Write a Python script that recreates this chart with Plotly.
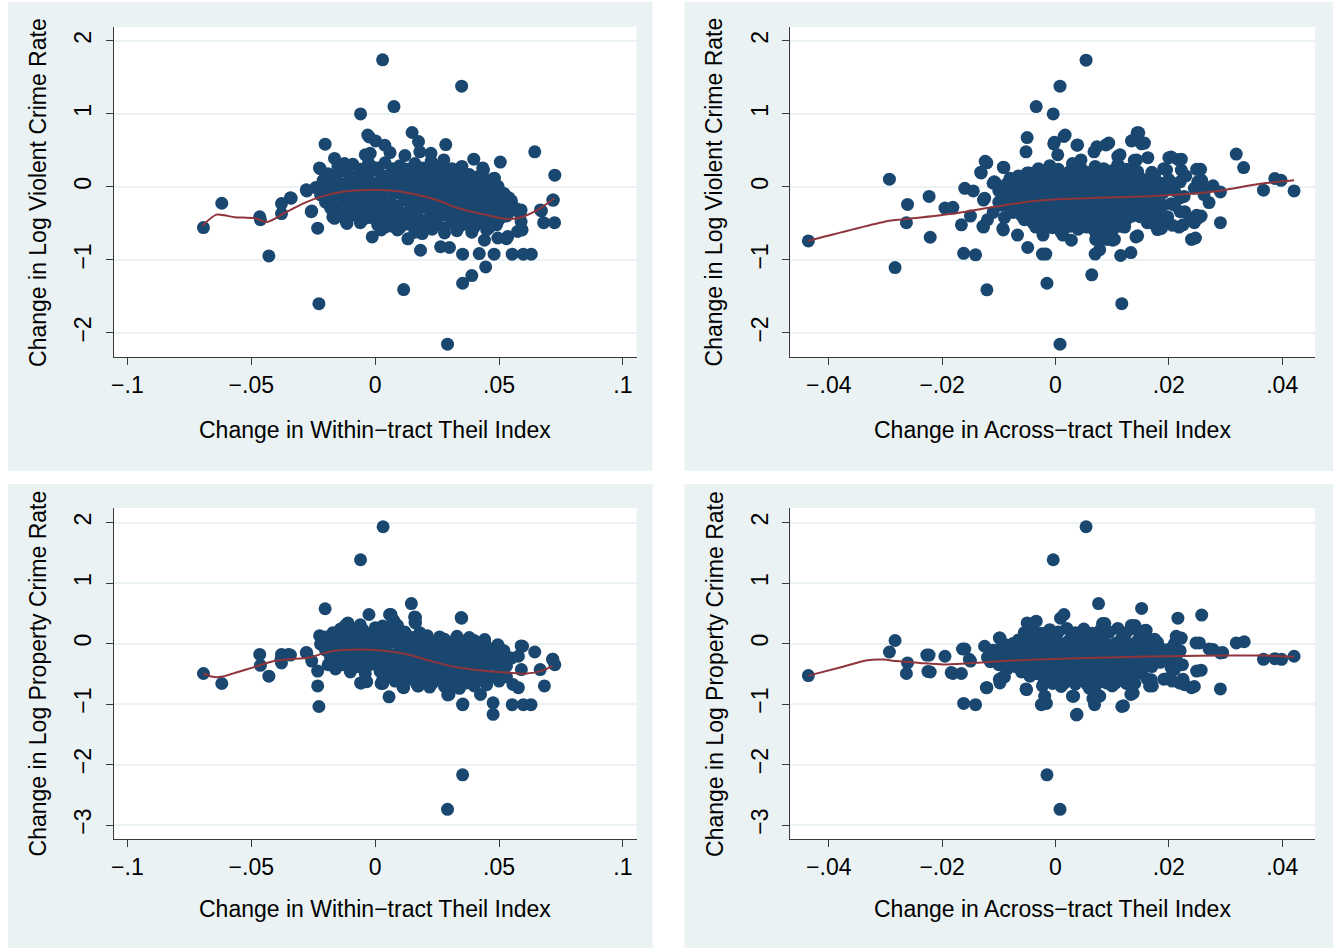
import plotly.graph_objects as go

# ---------------- data ----------------
# Panel A: within-tract Theil change vs. change in log violent crime rate
TL_POINTS = [
    (0.003, 1.74), (0.0349, 1.38), (0.0076, 1.10), (-0.0059, 1.00),
    (-0.0693, -0.557), (-0.0619, -0.224), (-0.0466, -0.41), (-0.0463, -0.45), (-0.0429, -0.945),
    (-0.0378, -0.228), (-0.0378, -0.365), (-0.0342, -0.15), (-0.0276, -0.055), (-0.0256, -0.33),
    (-0.0232, -0.566), (-0.0227, -1.60), (-0.0202, 0.585), (-0.0222, 0.25), (-0.0164, 0.39),
    (0.0115, -1.406), (0.0292, -2.155), (0.0353, -1.32), (0.039, -1.215), (0.0446, -1.096),
    (0.0353, -0.922), (0.042, -0.913), (0.048, -0.922), (0.0553, -0.922), (0.0598, -0.922), (0.063, -0.922),
    (0.0183, -0.868), (0.0264, -0.82), (0.030, -0.83),
    (0.0644, 0.48), (0.0725, 0.16), (0.0719, -0.18), (0.068, -0.49), (0.0724, -0.49), (0.0671, -0.33),
    (0.0505, 0.34), (0.0398, 0.38), (0.0285, 0.58), (0.0225, 0.46), (0.0149, 0.745), (0.0175, 0.62),
    (-0.0024, 0.685), (0.0002, 0.63), (0.0039, 0.57), (-0.002, 0.46), (0.0437, 0.23), (0.048, 0.115),
    (0.0585, -0.365), (0.0593, -0.59), (0.053, -0.71), (-0.0012, -0.685), (0.0132, -0.712), (0.019, -0.64),
    (-0.0164, -0.43), (-0.0114, -0.50),
    (-0.0030, 0.71), (-0.0027, 0.33), (-0.0124, 0.32), (-0.0225, 0.26), (0.0226, 0.35), (0.0277, 0.37),
    (0.0434, 0.26), (0.0481, 0.12), (0.0495, 0.01), (0.0414, 0.14), (0.0333, 0.23), (0.036, 0.06),
    (0.0394, -0.06), (0.0434, -0.13), (0.0495, -0.14), (-0.0278, -0.04), (-0.0339, -0.155),
    (-0.0258, -0.34), (-0.0171, -0.41), (-0.0117, -0.475), (0.0024, -0.59), (0.0071, -0.54),
    (0.0192, -0.61), (0.0441, -0.73), (0.0495, -0.70), (0.0535, -0.68), (0.0575, -0.61),
    (0.0589, -0.475), (0.0535, -0.36), (0.0589, -0.315), (0.0667, -0.315), (0.0717, -0.18),
    (-0.004, 0.44), (0.006, 0.47), (0.012, 0.43), (0.018, 0.48),
    (-0.015, 0.28), (-0.009, 0.31), (-0.001, 0.27), (0.004, 0.33), (0.010, 0.29), (0.016, 0.32),
    (0.021, 0.26), (0.027, 0.30), (0.035, 0.28),
    (-0.019, 0.18), (-0.012, 0.21), (-0.006, 0.17), (0.001, 0.22), (0.007, 0.19), (0.013, 0.16),
    (0.019, 0.21), (0.025, 0.18), (0.031, 0.20), (0.038, 0.17),
    (-0.021, 0.09), (-0.016, 0.12), (-0.010, 0.08), (-0.004, 0.11), (0.002, 0.07), (0.008, 0.12),
    (0.014, 0.09), (0.020, 0.11), (0.026, 0.08), (0.032, 0.10), (0.040, 0.07), (0.046, 0.09),
    (-0.024, -0.01), (-0.018, 0.02), (-0.012, -0.02), (-0.007, 0.01), (-0.001, -0.03), (0.005, 0.02),
    (0.011, -0.01), (0.017, 0.01), (0.023, -0.02), (0.029, 0.02), (0.034, -0.01), (0.041, 0.01), (0.047, -0.03),
    (-0.022, -0.11), (-0.015, -0.08), (-0.009, -0.12), (-0.003, -0.09), (0.003, -0.11), (0.009, -0.08),
    (0.015, -0.12), (0.021, -0.09), (0.027, -0.11), (0.033, -0.08), (0.038, -0.12), (0.044, -0.10), (0.052, -0.09),
    (-0.020, -0.21), (-0.013, -0.18), (-0.006, -0.22), (0.000, -0.19), (0.006, -0.21), (0.012, -0.18),
    (0.018, -0.22), (0.024, -0.19), (0.030, -0.21), (0.036, -0.18), (0.042, -0.22), (0.048, -0.20), (0.055, -0.19),
    (-0.018, -0.29), (-0.011, -0.32), (-0.004, -0.28), (0.002, -0.31), (0.008, -0.29), (0.014, -0.32),
    (0.020, -0.28), (0.026, -0.31), (0.032, -0.29), (0.037, -0.32), (0.043, -0.28), (0.050, -0.31), (0.057, -0.30),
    (-0.008, -0.39), (-0.002, -0.42), (0.004, -0.38), (0.010, -0.41), (0.016, -0.39), (0.022, -0.42),
    (0.028, -0.38), (0.034, -0.41), (0.040, -0.39), (0.046, -0.42), (0.053, -0.40),
    (-0.006, -0.49), (0.001, -0.52), (0.007, -0.48), (0.013, -0.51), (0.019, -0.49), (0.025, -0.52),
    (0.031, -0.48), (0.036, -0.51), (0.042, -0.49), (0.049, -0.52),
    (0.009, -0.59), (0.016, -0.62), (0.023, -0.58), (0.028, -0.63), (0.033, -0.60), (0.039, -0.62), (0.045, -0.59),
]
TL_CORE_FILL = [
    (-0.012, 0.25), (-0.006, 0.24), (0.001, 0.26), (0.007, 0.25), (0.013, 0.24), (0.019, 0.26), (0.024, 0.24), (0.031, 0.25),
    (-0.016, 0.15), (-0.009, 0.14), (-0.003, 0.16), (0.004, 0.15), (0.010, 0.14), (0.016, 0.16), (0.022, 0.15),
    (0.028, 0.14), (0.035, 0.15),
    (-0.019, 0.05), (-0.013, 0.04), (-0.007, 0.06), (-0.001, 0.05), (0.005, 0.04), (0.011, 0.06), (0.017, 0.05),
    (0.023, 0.04), (0.029, 0.06), (0.036, 0.05), (0.043, 0.04),
    (-0.021, -0.05), (-0.015, -0.06), (-0.009, -0.04), (-0.004, -0.05), (0.002, -0.06), (0.008, -0.04), (0.014, -0.05),
    (0.020, -0.06), (0.026, -0.04), (0.031, -0.05), (0.037, -0.06), (0.044, -0.05), (0.050, -0.04),
    (-0.018, -0.15), (-0.012, -0.16), (-0.006, -0.14), (0.000, -0.15), (0.006, -0.16), (0.012, -0.14), (0.018, -0.15),
    (0.024, -0.16), (0.030, -0.14), (0.036, -0.15), (0.041, -0.16), (0.047, -0.14), (0.054, -0.15),
    (-0.016, -0.25), (-0.009, -0.26), (-0.003, -0.24), (0.003, -0.25), (0.009, -0.26), (0.015, -0.24), (0.021, -0.25),
    (0.027, -0.26), (0.033, -0.24), (0.039, -0.25), (0.045, -0.26), (0.052, -0.24),
    (-0.014, -0.35), (-0.007, -0.36), (-0.001, -0.34), (0.005, -0.35), (0.011, -0.36), (0.017, -0.34), (0.023, -0.35),
    (0.029, -0.36), (0.035, -0.34), (0.040, -0.35), (0.047, -0.36), (0.054, -0.34),
    (-0.005, -0.45), (0.001, -0.46), (0.007, -0.44), (0.013, -0.45), (0.019, -0.46), (0.025, -0.44), (0.031, -0.45),
    (0.037, -0.46), (0.043, -0.44), (0.050, -0.45),
    (0.004, -0.55), (0.010, -0.56), (0.016, -0.54), (0.022, -0.55), (0.028, -0.56), (0.034, -0.54), (0.040, -0.55),
    (0.046, -0.56),
]
TL_LOWESS_X = [-0.0698, -0.0641, -0.0608, -0.0567, -0.0487, -0.0435, -0.0366, -0.0285, -0.0204, -0.0124,
               -0.0030, 0.0065, 0.0172, 0.0226, 0.0266, 0.0333, 0.0441, 0.0535, 0.0589, 0.0656, 0.0723]
TL_LOWESS_Y = [-0.534, -0.38, -0.39, -0.415, -0.43, -0.48, -0.36, -0.22, -0.12, -0.064,
               -0.041, -0.05, -0.11, -0.155, -0.20, -0.29, -0.38, -0.44, -0.415, -0.315, -0.155]

# Panel B: across-tract Theil change vs. change in log violent crime rate
TR_POINTS = [
    (0.0054, 1.735), (0.0008, 1.38), (-0.0034, 1.10), (-0.0004, 1.00),
    (-0.0436, -0.74), (-0.0293, 0.105), (-0.0283, -1.105), (-0.0261, -0.24), (-0.0263, -0.49),
    (-0.0223, -0.13), (-0.0221, -0.69), (-0.0195, -0.29), (-0.0181, -0.28), (-0.0166, -0.52),
    (-0.016, -0.02), (-0.0145, -0.055), (-0.0162, -0.91), (-0.0141, -0.93), (-0.015, -0.40),
    (-0.0131, 0.19), (-0.0121, 0.33), (-0.0121, -1.41), (-0.0091, 0.265), (-0.0127, -0.18),
    (-0.0127, -0.55), (-0.0105, 0.045), (-0.0092, -0.59), (-0.0067, -0.66), (-0.005, 0.675),
    (-0.0052, 0.48), (-0.0049, -0.83), (-0.0023, -0.92), (-0.0017, -0.92), (-0.0015, -1.32),
    (0.0008, -2.155), (0.0015, 0.69), (-0.0003, 0.59), (0.0038, 0.57), (0.0064, -1.205),
    (0.007, -0.92), (0.0078, -0.86), (0.0115, -0.94), (0.0133, -0.90), (0.0117, -1.60),
    (0.0144, 0.74), (0.0134, 0.63), (0.0152, 0.59), (0.0089, 0.575), (0.0073, 0.55), (0.0068, 0.48),
    (0.0110, 0.42), (0.0139, 0.365), (0.0163, 0.40), (0.020, 0.40), (0.0216, 0.375), (0.0191, 0.25),
    (0.0249, 0.24), (0.0319, 0.45), (0.0332, 0.265), (0.0387, 0.115), (0.0398, 0.09), (0.0421, -0.055),
    (0.0367, -0.045), (0.0291, -0.07), (0.0278, 0.015), (0.0271, -0.215), (0.0262, -0.105),
    (0.0291, -0.49), (0.024, -0.72), (0.0249, -0.39), (0.0245, -0.49), (0.0238, -0.43), (0.0218, -0.55),
    (0.0206, -0.525), (0.0191, -0.465), (0.018, -0.585), (0.022, -0.34), (0.0204, -0.23), (0.0227, -0.13),
    (0.022, 0.07), (0.0258, 0.09), (0.0245, -0.02), (0.0166, -0.41), (0.0162, -0.49), (0.0142, -0.685),
    (0.0122, -0.55), (0.0104, -0.72), (0.0091, -0.72), (0.0071, -0.72),
    (-0.0132, 0.20), (-0.0124, 0.35), (-0.0092, 0.27), (-0.0125, -0.155), (-0.0128, -0.54),
    (-0.0108, 0.07), (-0.0093, -0.57), (-0.0002, 0.61), (0.0017, 0.71), (0.0039, 0.575),
    (0.0004, 0.44), (0.0045, 0.37), (0.0094, 0.60), (0.0114, 0.44), (0.0137, 0.64), (0.0147, 0.74),
    (0.0157, 0.60), (0.0112, 0.28), (0.0134, 0.21), (0.0143, 0.37), (0.0204, 0.41), (0.0222, 0.38),
    (0.0196, 0.23), (0.0222, 0.23), (0.0256, 0.24), (0.0251, 0.07), (0.026, 0.00), (0.021, -0.25),
    (0.0228, -0.34), (0.0198, -0.41), (0.0225, -0.52), (0.0187, -0.57), (0.0169, -0.43), (0.0172, -0.50),
    (0.0247, -0.70), (0.0251, -0.43), (0.0257, -0.40), (0.0145, -0.67), (0.0084, -0.70), (0.0101, -0.73),
    (0.0028, -0.73), (0.0013, -0.66), (-0.0022, -0.66), (-0.0046, 0.19), (-0.0075, 0.10), (-0.0075, -0.04),
    (-0.011, -0.35), (-0.012, -0.45), (-0.010, -0.05), (-0.009, -0.42), (-0.011, 0.05), (-0.008, 0.12),
    (0.019, -0.25), (0.021, -0.05), (0.023, 0.15), (0.018, -0.35), (0.020, 0.05), (0.022, -0.15),
    (-0.001, 0.29), (0.003, 0.32), (0.007, 0.28), (0.011, 0.31),
    (-0.005, 0.19), (-0.002, 0.22), (0.001, 0.18), (0.004, 0.21), (0.007, 0.17), (0.010, 0.22),
    (0.013, 0.19), (0.017, 0.20),
    (-0.007, 0.09), (-0.004, 0.12), (-0.001, 0.08), (0.002, 0.11), (0.005, 0.09), (0.008, 0.12),
    (0.011, 0.08), (0.014, 0.11), (0.017, 0.09), (0.020, 0.10),
    (-0.009, -0.01), (-0.006, 0.02), (-0.003, -0.02), (0.000, 0.01), (0.003, -0.01), (0.006, 0.02),
    (0.009, -0.02), (0.012, 0.01), (0.015, -0.01), (0.018, 0.02),
    (-0.008, -0.11), (-0.005, -0.08), (-0.002, -0.12), (0.001, -0.09), (0.004, -0.11), (0.007, -0.08),
    (0.010, -0.12), (0.013, -0.09), (0.016, -0.11), (0.019, -0.08),
    (-0.010, -0.21), (-0.007, -0.18), (-0.004, -0.22), (-0.001, -0.19), (0.002, -0.21), (0.005, -0.18),
    (0.008, -0.22), (0.011, -0.19), (0.014, -0.21), (0.017, -0.18),
    (-0.008, -0.29), (-0.005, -0.32), (-0.002, -0.28), (0.001, -0.31), (0.004, -0.29), (0.007, -0.32),
    (0.010, -0.28), (0.013, -0.31), (0.016, -0.29),
    (-0.006, -0.39), (-0.003, -0.42), (0.000, -0.38), (0.003, -0.41), (0.006, -0.39), (0.009, -0.42),
    (0.012, -0.38), (0.015, -0.41),
    (-0.004, -0.49), (-0.001, -0.52), (0.002, -0.48), (0.005, -0.51), (0.008, -0.49), (0.011, -0.52),
    (-0.002, -0.59), (0.001, -0.62), (0.004, -0.58), (0.007, -0.61), (0.010, -0.60),
]
TR_CORE_FILL = [
    (-0.003, 0.25), (0.0005, 0.24), (0.0045, 0.26), (0.0085, 0.25), (0.0125, 0.24),
    (-0.0065, 0.15), (-0.0035, 0.14), (-0.0005, 0.16), (0.0025, 0.15), (0.0055, 0.14), (0.0085, 0.16),
    (0.0115, 0.15), (0.0145, 0.14), (0.0175, 0.15),
    (-0.0085, 0.05), (-0.0055, 0.04), (-0.0025, 0.06), (0.0005, 0.05), (0.0035, 0.04), (0.0065, 0.06),
    (0.0095, 0.05), (0.0125, 0.04), (0.0155, 0.06), (0.0185, 0.05),
    (-0.0095, -0.05), (-0.0065, -0.06), (-0.0035, -0.04), (-0.0005, -0.05), (0.0025, -0.06), (0.0055, -0.04),
    (0.0085, -0.05), (0.0115, -0.06), (0.0145, -0.04), (0.0175, -0.05),
    (-0.0095, -0.15), (-0.0065, -0.16), (-0.0035, -0.14), (-0.0005, -0.15), (0.0025, -0.16), (0.0055, -0.14),
    (0.0085, -0.15), (0.0115, -0.16), (0.0145, -0.14), (0.0175, -0.15),
    (-0.0095, -0.25), (-0.0065, -0.26), (-0.0035, -0.24), (-0.0005, -0.25), (0.0025, -0.26), (0.0055, -0.24),
    (0.0085, -0.25), (0.0115, -0.26), (0.0145, -0.24), (0.0175, -0.25),
    (-0.0075, -0.35), (-0.0045, -0.36), (-0.0015, -0.34), (0.0015, -0.35), (0.0045, -0.36), (0.0075, -0.34),
    (0.0105, -0.35), (0.0135, -0.36), (0.0165, -0.34),
    (-0.0055, -0.45), (-0.0025, -0.46), (0.0005, -0.44), (0.0035, -0.45), (0.0065, -0.46), (0.0095, -0.44),
    (0.0125, -0.45),
    (-0.0035, -0.55), (-0.0005, -0.56), (0.0025, -0.54), (0.0055, -0.55), (0.0085, -0.56), (0.0115, -0.54),
]
TR_CORE_FILL2 = [
    (-0.0035, 0.20), (-0.0005, 0.19), (0.0025, 0.21), (0.0055, 0.20), (0.0085, 0.19), (0.0115, 0.20), (0.0145, 0.21),
    (-0.0055, 0.10), (-0.0025, 0.11), (0.0005, 0.09), (0.0035, 0.10), (0.0065, 0.11), (0.0095, 0.10),
    (0.0125, 0.09), (0.0155, 0.10),
    (-0.0075, 0.00), (-0.0045, -0.01), (-0.0015, 0.01), (0.0015, 0.00), (0.0045, -0.01), (0.0075, 0.01),
    (0.0105, 0.00), (0.0135, -0.01), (0.0165, 0.00),
    (-0.0065, -0.10), (-0.0035, -0.09), (-0.0005, -0.11), (0.0025, -0.10), (0.0055, -0.09), (0.0085, -0.11),
    (0.0115, -0.10), (0.0145, -0.09), (0.0175, -0.10),
    (-0.0085, -0.20), (-0.0055, -0.21), (-0.0025, -0.19), (0.0005, -0.20), (0.0035, -0.21), (0.0065, -0.19),
    (0.0095, -0.20), (0.0125, -0.21), (0.0155, -0.19),
    (-0.0065, -0.30), (-0.0035, -0.31), (-0.0005, -0.29), (0.0025, -0.30), (0.0055, -0.31), (0.0085, -0.29),
    (0.0115, -0.30), (0.0145, -0.31),
    (-0.0045, -0.40), (-0.0015, -0.41), (0.0015, -0.39), (0.0045, -0.40), (0.0075, -0.41), (0.0105, -0.39),
    (0.0135, -0.40),
    (-0.0025, -0.50), (0.0005, -0.51), (0.0035, -0.49), (0.0065, -0.50), (0.0095, -0.51),
]
TR_LOWESS_X = [-0.0436, -0.0293, -0.027, -0.0175, -0.0105, -0.0034, 0.0054, 0.0172, 0.0272, 0.0365, 0.0421]
TR_LOWESS_Y = [-0.74, -0.465, -0.445, -0.36, -0.27, -0.19, -0.155, -0.125, -0.07, 0.046, 0.09]

# Panel C: within-tract Theil change vs. change in log property crime rate
BL_POINTS = [
    (0.0032, 1.93), (-0.0059, 1.385), (-0.0693, -0.495), (-0.0619, -0.66), (-0.0466, -0.18),
    (-0.0463, -0.36), (-0.0429, -0.54), (-0.0378, -0.18), (-0.0378, -0.32), (-0.0342, -0.19),
    (-0.0276, -0.155), (-0.0256, -0.29), (-0.0232, -0.455), (-0.0232, -0.70), (-0.0227, -1.04),
    (-0.0202, 0.575), (-0.0224, 0.13), (-0.0025, 0.48), (-0.0059, -0.65), (-0.0034, -0.63),
    (0.0031, -0.66), (0.0056, -0.88), (0.0064, 0.48), (0.0076, 0.37), (0.0146, 0.66),
    (0.0163, 0.43), (0.0163, 0.34), (0.0115, -0.73), (0.0175, -0.70), (0.0349, 0.42),
    (0.0298, -0.84), (0.0353, -1.01), (0.0353, -2.17), (0.0292, -2.74), (0.0476, -0.98),
    (0.0476, -1.17), (0.0553, -1.01), (0.0598, -1.01), (0.0629, -1.01), (0.0683, -0.70),
    (0.0666, -0.43), (0.0717, -0.26), (0.0725, -0.35), (0.0644, -0.14), (0.0595, -0.045),
    (0.0497, -0.035), (0.0442, 0.065), (0.0425, -0.84), (0.0556, -0.675), (0.0578, -0.73),
    (0.0590, -0.43), (0.0578, -0.21), (0.0531, -0.29),
    (0.0058, 0.48), (0.0071, 0.395), (0.0159, 0.44), (0.0161, 0.35), (0.0347, 0.43),
    (0.0716, -0.26), (-0.0056, -0.65), (0.0024, -0.66), (0.0112, -0.72), (0.0172, -0.70),
    (0.0293, -0.85), (0.0354, -1.0), (0.0589, -0.04), (0.0495, -0.02), (-0.011, 0.34),
    (-0.0278, -0.15), (-0.035, -0.18), (-0.038, -0.26),
    (-0.014, 0.24), (-0.010, 0.27), (-0.005, 0.23), (0.000, 0.26), (0.005, 0.22),
    (-0.020, 0.11), (-0.015, 0.14), (-0.009, 0.10), (-0.003, 0.13), (0.003, 0.11), (0.009, 0.14),
    (0.015, 0.10), (0.021, 0.13), (0.026, 0.11), (0.033, 0.12), (0.038, 0.10),
    (-0.022, -0.01), (-0.017, 0.02), (-0.011, -0.02), (-0.005, 0.01), (0.001, -0.01), (0.007, 0.02),
    (0.013, -0.02), (0.019, 0.01), (0.025, -0.01), (0.031, 0.02), (0.036, -0.02), (0.042, 0.00),
    (-0.020, -0.11), (-0.014, -0.14), (-0.008, -0.10), (-0.002, -0.13), (0.004, -0.11), (0.010, -0.14),
    (0.016, -0.10), (0.022, -0.13), (0.028, -0.11), (0.034, -0.14), (0.040, -0.10), (0.046, -0.13), (0.052, -0.12),
    (-0.018, -0.23), (-0.012, -0.26), (-0.006, -0.22), (0.000, -0.25), (0.006, -0.23), (0.012, -0.26),
    (0.018, -0.22), (0.024, -0.25), (0.030, -0.23), (0.036, -0.26), (0.042, -0.22), (0.048, -0.25), (0.055, -0.24),
    (-0.013, -0.35), (-0.007, -0.38), (-0.001, -0.34), (0.005, -0.37), (0.011, -0.35), (0.017, -0.38),
    (0.023, -0.34), (0.029, -0.37), (0.035, -0.35), (0.041, -0.38), (0.047, -0.34), (0.053, -0.37),
    (-0.010, -0.47), (-0.004, -0.50), (0.002, -0.46), (0.008, -0.49), (0.014, -0.47), (0.020, -0.50),
    (0.026, -0.46), (0.032, -0.49), (0.038, -0.47), (0.044, -0.50), (0.050, -0.48),
    (0.014, -0.59), (0.020, -0.62), (0.026, -0.58), (0.032, -0.61), (0.038, -0.59), (0.044, -0.62),
    (0.028, -0.71), (0.034, -0.74), (0.040, -0.70),
]
BL_CORE_FILL = [
    (-0.017, 0.18), (-0.012, 0.17), (-0.006, 0.19), (0.000, 0.18), (0.006, 0.17), (0.012, 0.19), (0.018, 0.18),
    (-0.021, 0.06), (-0.014, 0.05), (-0.008, 0.07), (-0.002, 0.06), (0.004, 0.05), (0.010, 0.07), (0.016, 0.06),
    (0.022, 0.05), (0.028, 0.07), (0.034, 0.06), (0.040, 0.05),
    (-0.020, -0.06), (-0.014, -0.07), (-0.008, -0.05), (-0.002, -0.06), (0.004, -0.07), (0.010, -0.05),
    (0.016, -0.06), (0.022, -0.07), (0.028, -0.05), (0.034, -0.06), (0.039, -0.07), (0.045, -0.05),
    (-0.017, -0.18), (-0.011, -0.19), (-0.005, -0.17), (0.001, -0.18), (0.007, -0.19), (0.013, -0.17),
    (0.019, -0.18), (0.025, -0.19), (0.031, -0.17), (0.037, -0.18), (0.043, -0.19), (0.049, -0.17),
    (-0.015, -0.30), (-0.009, -0.31), (-0.003, -0.29), (0.003, -0.30), (0.009, -0.31), (0.015, -0.29),
    (0.021, -0.30), (0.027, -0.31), (0.033, -0.29), (0.039, -0.30), (0.045, -0.31), (0.051, -0.29),
    (-0.010, -0.42), (-0.004, -0.43), (0.002, -0.41), (0.008, -0.42), (0.014, -0.43), (0.020, -0.41),
    (0.026, -0.42), (0.032, -0.43), (0.038, -0.41), (0.044, -0.42), (0.050, -0.43),
    (0.005, -0.54), (0.011, -0.55), (0.017, -0.53), (0.023, -0.54), (0.029, -0.55), (0.035, -0.53),
    (0.041, -0.54), (0.047, -0.55),
    (0.023, -0.66), (0.031, -0.67), (0.037, -0.65),
    (-0.012, 0.30), (-0.006, 0.31), (0.003, 0.29), (0.009, 0.30),
    (0.003, -0.60), (0.008, -0.62), (0.017, -0.68), (0.022, -0.72), (0.045, -0.68), (0.050, -0.62),
    (0.053, -0.55), (-0.016, -0.42), (-0.019, -0.35),
]
BL_LOWESS_X = [-0.0693, -0.0656, -0.0622, -0.0554, -0.0486, -0.0419, -0.0351, -0.0271, -0.0177, -0.007,
               0.0024, 0.0132, 0.0226, 0.032, 0.0427, 0.0535, 0.0602, 0.0669, 0.0716]
BL_LOWESS_Y = [-0.495, -0.55, -0.55, -0.47, -0.385, -0.30, -0.26, -0.236, -0.127, -0.099,
               -0.115, -0.18, -0.29, -0.385, -0.445, -0.48, -0.50, -0.456, -0.374]

# Panel D: across-tract Theil change vs. change in log property crime rate
BR_POINTS = [
    (0.0054, 1.93), (-0.0004, 1.385), (-0.0436, -0.53), (-0.0283, 0.05), (-0.0293, -0.14),
    (-0.0261, -0.32), (-0.0263, -0.495), (-0.0223, -0.19), (-0.0221, -0.47), (-0.0195, -0.21),
    (-0.0181, -0.495), (-0.0166, -0.495), (-0.016, -0.09), (-0.0162, -0.99), (-0.0141, -1.01),
    (-0.015, -0.29), (-0.0125, -0.045), (-0.0121, -0.73), (-0.0098, 0.09), (-0.0098, -0.65),
    (-0.009, -0.55), (-0.005, 0.34), (-0.0034, 0.37), (-0.0051, -0.76), (-0.0025, -1.01),
    (-0.0016, -0.99), (-0.0015, -2.17), (0.0008, -2.74), (0.0009, 0.42), (0.0015, 0.48),
    (0.003, -0.87), (0.0037, -1.18), (0.0076, 0.66), (0.0083, 0.33), (0.0069, -1.01),
    (0.0075, -0.85), (0.0117, -1.04), (0.0133, -0.84), (0.0134, 0.30), (0.0152, 0.58),
    (0.0156, 0.21), (0.0216, 0.42), (0.0258, 0.47), (0.0248, 0.01), (0.0213, 0.12),
    (0.0271, -0.09), (0.0291, -0.155), (0.0319, 0.01), (0.0333, 0.03), (0.0367, -0.26),
    (0.0387, -0.25), (0.0399, -0.26), (0.0421, -0.21), (0.0291, -0.75), (0.024, -0.73),
    (0.0249, -0.455), (0.0219, -0.65), (0.0206, -0.62), (0.0191, -0.59), (0.0166, -0.70),
    (0.0162, -0.59), (0.0140, -0.66), (0.0224, -0.35), (0.0204, -0.40),
    (0.0087, 0.33), (0.014, 0.30), (0.016, 0.22), (-0.0227, -0.19), (-0.0225, -0.46),
    (-0.0184, -0.48), (-0.0164, -0.09), (-0.0152, -0.26), (-0.0099, 0.09), (-0.0122, -0.73),
    (-0.0099, -0.59), (-0.0092, -0.55), (-0.0052, -0.75), (-0.0023, -0.70), (-0.0019, -0.87),
    (0.0038, -1.17), (0.0032, -0.87), (0.0066, -0.91), (0.0078, -0.87), (0.012, -1.03),
    (0.0137, -0.82), (0.0169, -0.60), (0.0171, -0.70), (0.0197, -0.58), (0.0225, -0.59),
    (0.0228, -0.68), (0.0245, -0.71), (0.0257, -0.44), (0.0278, -0.10), (0.0295, -0.15),
    (0.0254, 0.01), (0.0222, 0.09), (0.0207, -0.35), (0.021, -0.43),
    (-0.004, 0.11), (0.000, 0.14), (0.004, 0.10), (0.008, 0.13), (0.012, 0.11), (0.016, 0.12),
    (-0.009, -0.01), (-0.006, 0.02), (-0.003, -0.02), (0.000, 0.01), (0.003, -0.01), (0.006, 0.02),
    (0.009, -0.02), (0.012, 0.01), (0.015, -0.01), (0.018, 0.02), (0.021, 0.00),
    (-0.011, -0.11), (-0.008, -0.14), (-0.005, -0.10), (-0.002, -0.13), (0.001, -0.11), (0.004, -0.14),
    (0.007, -0.10), (0.010, -0.13), (0.013, -0.11), (0.016, -0.14), (0.019, -0.10), (0.022, -0.12),
    (-0.012, -0.23), (-0.009, -0.26), (-0.006, -0.22), (-0.003, -0.25), (0.000, -0.23), (0.003, -0.26),
    (0.006, -0.22), (0.009, -0.25), (0.012, -0.23), (0.015, -0.26), (0.018, -0.22), (0.021, -0.24),
    (-0.010, -0.35), (-0.007, -0.38), (-0.004, -0.34), (-0.001, -0.37), (0.002, -0.35), (0.005, -0.38),
    (0.008, -0.34), (0.011, -0.37), (0.014, -0.35), (0.017, -0.38),
    (-0.006, -0.47), (-0.003, -0.50), (0.000, -0.46), (0.003, -0.49), (0.006, -0.47), (0.009, -0.50),
    (0.012, -0.46), (0.015, -0.49),
    (-0.002, -0.59), (0.002, -0.62), (0.005, -0.58), (0.009, -0.61), (0.012, -0.60),
    (0.001, -0.71), (0.006, -0.74), (0.010, -0.70),
]
BR_CORE_FILL = [
    (-0.0065, 0.06), (-0.0035, 0.05), (-0.0005, 0.07), (0.0025, 0.06), (0.0055, 0.05), (0.0085, 0.07),
    (0.0115, 0.06), (0.0145, 0.05), (0.0175, 0.07),
    (-0.0095, -0.06), (-0.0065, -0.07), (-0.0035, -0.05), (-0.0005, -0.06), (0.0025, -0.07), (0.0055, -0.05),
    (0.0085, -0.06), (0.0115, -0.07), (0.0145, -0.05), (0.0175, -0.06), (0.0205, -0.07),
    (-0.0115, -0.18), (-0.0085, -0.19), (-0.0055, -0.17), (-0.0025, -0.18), (0.0005, -0.19), (0.0035, -0.17),
    (0.0065, -0.18), (0.0095, -0.19), (0.0125, -0.17), (0.0155, -0.18), (0.0185, -0.19), (0.0215, -0.17),
    (-0.0115, -0.30), (-0.0085, -0.31), (-0.0055, -0.29), (-0.0025, -0.30), (0.0005, -0.31), (0.0035, -0.29),
    (0.0065, -0.30), (0.0095, -0.31), (0.0125, -0.29), (0.0155, -0.30), (0.0185, -0.31),
    (-0.0085, -0.42), (-0.0055, -0.43), (-0.0025, -0.41), (0.0005, -0.42), (0.0035, -0.43), (0.0065, -0.41),
    (0.0095, -0.42), (0.0125, -0.43), (0.0155, -0.41),
    (-0.0045, -0.54), (-0.0015, -0.55), (0.0015, -0.53), (0.0045, -0.54), (0.0075, -0.55), (0.0105, -0.53),
    (0.0135, -0.54),
    (-0.0005, -0.66), (0.0035, -0.67), (0.0075, -0.65), (0.0105, -0.66),
]
BR_CORE_FILL2 = [
    (-0.004, 0.24), (-0.001, 0.23), (0.002, 0.25), (0.005, 0.24), (0.008, 0.23), (0.011, 0.25), (0.014, 0.24),
    (-0.0055, 0.18), (-0.0025, 0.17), (0.0005, 0.19), (0.0035, 0.18), (0.0065, 0.17), (0.0095, 0.19),
    (0.0125, 0.18), (0.0155, 0.17),
    (-0.0075, 0.00), (-0.0045, -0.01), (-0.0015, 0.01), (0.0015, 0.00), (0.0045, -0.01), (0.0075, 0.01),
    (0.0105, 0.00), (0.0135, -0.01), (0.0165, 0.00),
    (-0.0095, -0.12), (-0.0065, -0.13), (-0.0035, -0.11), (-0.0005, -0.12), (0.0025, -0.13), (0.0055, -0.11),
    (0.0085, -0.12), (0.0115, -0.13), (0.0145, -0.11), (0.0175, -0.12),
    (-0.0105, -0.24), (-0.0075, -0.25), (-0.0045, -0.23), (-0.0015, -0.24), (0.0015, -0.25), (0.0045, -0.23),
    (0.0075, -0.24), (0.0105, -0.25), (0.0135, -0.23), (0.0165, -0.24), (0.0195, -0.25),
    (-0.0085, -0.36), (-0.0055, -0.37), (-0.0025, -0.35), (0.0005, -0.36), (0.0035, -0.37), (0.0065, -0.35),
    (0.0095, -0.36), (0.0125, -0.37), (0.0155, -0.35),
    (-0.0045, -0.48), (-0.0015, -0.49), (0.0015, -0.47), (0.0045, -0.48), (0.0075, -0.49), (0.0105, -0.47),
    (0.0135, -0.48),
    (-0.0005, -0.60), (0.0035, -0.61), (0.0070, -0.59), (0.0105, -0.60),
    (0.0015, -0.66), (0.0055, -0.67), (0.0090, -0.65), (0.0125, -0.66),
]
BR_LOWESS_X = [-0.0436, -0.0375, -0.0332, -0.0303, -0.0281, -0.024, -0.0199, -0.0158, -0.0093, -0.0034,
               0.0025, 0.0113, 0.0201, 0.0307, 0.0365, 0.0421]
BR_LOWESS_Y = [-0.53, -0.385, -0.275, -0.265, -0.29, -0.32, -0.346, -0.33, -0.29, -0.264,
               -0.247, -0.225, -0.209, -0.198, -0.198, -0.22]

WITHIN_TICKS = [-0.1, -0.05, 0, 0.05, 0.1]
WITHIN_LABELS = ["\u2212.1", "\u2212.05", "0", ".05", ".1"]
ACROSS_TICKS = [-0.04, -0.02, 0, 0.02, 0.04]
ACROSS_LABELS = ["\u2212.04", "\u2212.02", "0", ".02", ".04"]
VIOLENT_TICKS = [-2, -1, 0, 1, 2]
VIOLENT_LABELS = ["\u22122", "\u22121", "0", "1", "2"]
PROPERTY_TICKS = [-3, -2, -1, 0, 1, 2]
PROPERTY_LABELS = ["\u22123", "\u22122", "\u22121", "0", "1", "2"]

X_TITLE_WITHIN = "Change in Within\u2212tract Theil Index"
X_TITLE_ACROSS = "Change in Across\u2212tract Theil Index"
Y_TITLE_VIOLENT = "Change in Log Violent Crime Rate"
Y_TITLE_PROPERTY = "Change in Log Property Crime Rate"

# ---------------- styling / layout ----------------
W, H = 1338, 951
NAVY = "#1a476f"
MAROON = "#90353b"
PANEL_BG = "#eaf2f3"
AXIS_COL = "#3a3a3a"
FONT = "Liberation Sans, Arial, sans-serif"
FS = 23


def px_x(p):
    return p / W


def px_y(p):
    return 1 - p / H


panels = [
    dict(pts=TL_POINTS + TL_CORE_FILL, lx=TL_LOWESS_X, ly=TL_LOWESS_Y, xn="x", yn="y",
         xdom=(111, 635), ydom=(27, 357), xr=[-0.1055, 0.1055], yr=[-2.33, 2.19],
         xt=(WITHIN_TICKS, WITHIN_LABELS), yt=(VIOLENT_TICKS, VIOLENT_LABELS),
         xtitle=X_TITLE_WITHIN, ytitle=Y_TITLE_VIOLENT, bg=(5, 651, 2, 471),
         xtitle_y=430, ytitle_x=35),
    dict(pts=TR_POINTS + TR_CORE_FILL + TR_CORE_FILL2, lx=TR_LOWESS_X, ly=TR_LOWESS_Y, xn="x2", yn="y2",
         xdom=(789, 1315), ydom=(27, 357), xr=[-0.0468, 0.0458], yr=[-2.33, 2.19],
         xt=(ACROSS_TICKS, ACROSS_LABELS), yt=(VIOLENT_TICKS, VIOLENT_LABELS),
         xtitle=X_TITLE_ACROSS, ytitle=Y_TITLE_VIOLENT, bg=(683, 1333, 2, 471),
         xtitle_y=430, ytitle_x=713),
    dict(pts=BL_POINTS + BL_CORE_FILL, lx=BL_LOWESS_X, ly=BL_LOWESS_Y, xn="x3", yn="y3",
         xdom=(111, 635), ydom=(508, 839), xr=[-0.1055, 0.1055], yr=[-3.23, 2.24],
         xt=(WITHIN_TICKS, WITHIN_LABELS), yt=(PROPERTY_TICKS, PROPERTY_LABELS),
         xtitle=X_TITLE_WITHIN, ytitle=Y_TITLE_PROPERTY, bg=(5, 651, 484, 948),
         xtitle_y=909, ytitle_x=35),
    dict(pts=BR_POINTS + BR_CORE_FILL + BR_CORE_FILL2, lx=BR_LOWESS_X, ly=BR_LOWESS_Y, xn="x4", yn="y4",
         xdom=(789, 1315), ydom=(508, 839), xr=[-0.0468, 0.0458], yr=[-3.23, 2.24],
         xt=(ACROSS_TICKS, ACROSS_LABELS), yt=(PROPERTY_TICKS, PROPERTY_LABELS),
         xtitle=X_TITLE_ACROSS, ytitle=Y_TITLE_PROPERTY, bg=(683, 1333, 484, 948),
         xtitle_y=909, ytitle_x=713),
]

fig = go.Figure()
shapes = []
annotations = []
layout_axes = {}

for i, p in enumerate(panels):
    xs = [pt[0] for pt in p["pts"]]
    ys = [pt[1] for pt in p["pts"]]
    fig.add_trace(go.Scatter(
        x=xs, y=ys, mode="markers", xaxis=p["xn"], yaxis=p["yn"],
        marker=dict(color=NAVY, size=13, line=dict(width=0)),
        showlegend=False, hoverinfo="skip"))
    fig.add_trace(go.Scatter(
        x=p["lx"], y=p["ly"], mode="lines", xaxis=p["xn"], yaxis=p["yn"],
        line=dict(color=MAROON, width=2, shape="spline", smoothing=0.8),
        showlegend=False, hoverinfo="skip"))

    sfx = "" if i == 0 else str(i + 1)
    x0, x1 = p["xdom"]
    y0, y1 = p["ydom"]
    layout_axes["xaxis" + sfx] = dict(
        domain=[px_x(x0), px_x(x1)], anchor=p["yn"], range=p["xr"],
        tickmode="array", tickvals=p["xt"][0], ticktext=p["xt"][1],
        showgrid=False, zeroline=False, showline=True, linecolor=AXIS_COL, linewidth=1.3,
        ticks="outside", ticklen=7, tickwidth=1.3, tickcolor=AXIS_COL,
        tickfont=dict(family=FONT, size=FS, color="#000000"), fixedrange=True)
    layout_axes["yaxis" + sfx] = dict(
        domain=[px_y(y1), px_y(y0)], anchor=p["xn"], range=p["yr"],
        tickmode="array", tickvals=p["yt"][0], ticktext=p["yt"][1], tickangle=-90,
        ticklabelstandoff=5,
        showgrid=True, gridcolor=PANEL_BG, gridwidth=2, zeroline=False,
        showline=True, linecolor=AXIS_COL, linewidth=1.3,
        ticks="outside", ticklen=7, tickwidth=1.3, tickcolor=AXIS_COL,
        tickfont=dict(family=FONT, size=FS, color="#000000"), fixedrange=True)

    bx0, bx1, by0, by1 = p["bg"]
    shapes.append(dict(type="rect", xref="paper", yref="paper", layer="below",
                       x0=px_x(bx0), x1=px_x(bx1), y0=px_y(by1), y1=px_y(by0),
                       fillcolor=PANEL_BG, line=dict(width=0)))
    shapes.append(dict(type="rect", xref="paper", yref="paper", layer="below",
                       x0=px_x(x0), x1=px_x(x1), y0=px_y(y1), y1=px_y(y0),
                       fillcolor="#ffffff", line=dict(width=0)))

    annotations.append(dict(xref="paper", yref="paper", x=px_x((x0 + x1) / 2), y=px_y(p["xtitle_y"]),
                            text=p["xtitle"], showarrow=False, xanchor="center", yanchor="middle",
                            font=dict(family=FONT, size=FS, color="#000000")))
    annotations.append(dict(xref="paper", yref="paper", x=px_x(p["ytitle_x"]), y=px_y((y0 + y1) / 2),
                            text=p["ytitle"], showarrow=False, xanchor="center", yanchor="middle",
                            textangle=-90, font=dict(family=FONT, size=FS, color="#000000")))

fig.update_layout(
    width=W, height=H, margin=dict(l=0, r=0, t=0, b=0),
    paper_bgcolor="#ffffff", plot_bgcolor="#ffffff",
    shapes=shapes, annotations=annotations, **layout_axes)

fig.write_html("out.html", config={"displayModeBar": False},
               post_script="document.body.style.margin='0px';document.body.style.overflow='hidden';")
